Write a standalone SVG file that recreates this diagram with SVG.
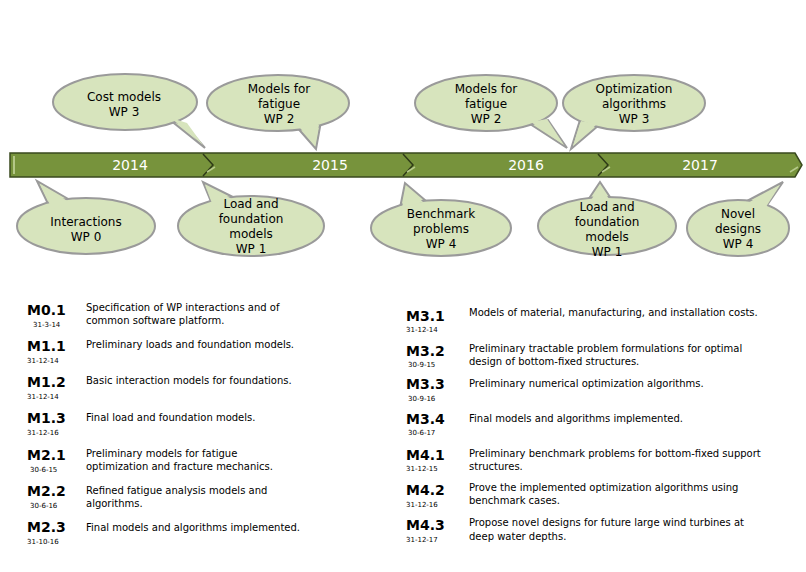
<svg xmlns="http://www.w3.org/2000/svg" width="806" height="572" viewBox="0 0 806 572">
<style>
.b{fill:#d7e4bd;stroke:#9a9a9a;stroke-width:2}
.bf{fill:#d7e4bd;stroke:none}
.t{font-family:"DejaVu Sans",Verdana,sans-serif;font-size:12px;fill:#000;text-anchor:middle}
.y{font-family:"DejaVu Sans",Verdana,sans-serif;font-size:14px;fill:#fff;text-anchor:middle}
.c{font-family:"DejaVu Sans",Verdana,sans-serif;font-size:14px;font-weight:bold;fill:#000}
.d{font-family:"DejaVu Sans",Verdana,sans-serif;font-size:7px;fill:#000}
.s{font-family:"DejaVu Sans",Verdana,sans-serif;font-size:10px;fill:#000}
</style>
<rect width="806" height="572" fill="#fff"/>
<g id="timeline">
<path d="M10,153 L795,153 L802,165 L795,177 L10,177 Z" fill="#77933c" stroke="#3a4a1e" stroke-width="1.5"/>
<path d="M14,156 L14,174" stroke="#c8d9a0" stroke-width="1.5"/>
<g fill="none" stroke="#2e3a17" stroke-width="1.5">
<path d="M203,154 L213,165 L203,176"/><path d="M403,154 L413,165 L403,176"/><path d="M598,154 L608,165 L598,176"/>
</g>
<g fill="none" stroke="#b5c98a" stroke-width="1.5">
<path d="M207,172 L215,167"/><path d="M407,172 L415,167"/><path d="M602,172 L610,167"/><path d="M790,172 L798,167"/>
</g>
<text class="y" x="130" y="170">2014</text>
<text class="y" x="330" y="170">2015</text>
<text class="y" x="526" y="170">2016</text>
<text class="y" x="700" y="170">2017</text>
</g>
<g id="connectors"></g>
<g id="n1"><polygon class="b" points="170,120 205,148 185,125"/><ellipse class="b" cx="125" cy="102" rx="72" ry="28"/><polygon class="bf" points="171,118 203,145 187,123"/>
<text class="t" x="124" y="101">Cost models</text><text class="t" x="124" y="116">WP 3</text></g>
<g id="n2"><polygon class="b" points="295,125 316,149 320,127"/><ellipse class="b" cx="278" cy="103" rx="71" ry="28"/><polygon class="bf" points="296,123 315,146 319,125"/>
<text class="t" x="279" y="93">Models for</text><text class="t" x="279" y="108">fatigue</text><text class="t" x="279" y="123">WP 2</text></g>
<g id="n3"><polygon class="b" points="530,124 567,148 548,120"/><ellipse class="b" cx="486" cy="103" rx="71" ry="28"/><polygon class="bf" points="531,122 564,145 547,119"/>
<text class="t" x="486" y="93">Models for</text><text class="t" x="486" y="108">fatigue</text><text class="t" x="486" y="123">WP 2</text></g>
<g id="n4"><polygon class="b" points="580,120 571,149 598,126"/><ellipse class="b" cx="634" cy="103" rx="71" ry="28"/><polygon class="bf" points="581,121 573,146 597,124"/>
<text class="t" x="634" y="93">Optimization</text><text class="t" x="634" y="108">algorithms</text><text class="t" x="634" y="123">WP 3</text></g>
<g id="n5"><polygon class="b" points="37,181 50,208 70,200"/><ellipse class="b" cx="86" cy="226" rx="69" ry="28"/><polygon class="bf" points="40,184 52,209 69,202"/>
<text class="t" x="86" y="226">Interactions</text><text class="t" x="86" y="241">WP 0</text></g>
<g id="n6"><polygon class="b" points="203,182 212,204 235,198"/><ellipse class="b" cx="251" cy="226" rx="73" ry="30"/><polygon class="bf" points="205,185 213,206 234,200"/>
<text class="t" x="251" y="208">Load and</text><text class="t" x="251" y="223">foundation</text><text class="t" x="251" y="238">models</text><text class="t" x="251" y="253">WP 1</text></g>
<g id="n7"><polygon class="b" points="405,183 400,208 425,200"/><ellipse class="b" cx="441" cy="228" rx="70" ry="28"/><polygon class="bf" points="406,186 402,208 423,202"/>
<text class="t" x="441" y="218">Benchmark</text><text class="t" x="441" y="233">problems</text><text class="t" x="441" y="248">WP 4</text></g>
<g id="n8"><polygon class="b" points="600,182 588,200 612,200"/><ellipse class="b" cx="607" cy="226" rx="69" ry="29"/><polygon class="bf" points="600,185 590,202 611,202"/>
<text class="t" x="607" y="211">Load and</text><text class="t" x="607" y="226">foundation</text><text class="t" x="607" y="241">models</text><text class="t" x="607" y="256">WP 1</text></g>
<g id="n9"><polygon class="b" points="783,182 745,202 765,208"/><ellipse class="b" cx="738" cy="228" rx="51" ry="28"/><polygon class="bf" points="780,185 746,204 764,210"/>
<text class="t" x="738" y="218">Novel</text><text class="t" x="738" y="233">designs</text><text class="t" x="738" y="248">WP 4</text></g>
<g id="milestones">
<text class="c" x="27" y="315">M0.1</text><text class="d" x="33" y="327">31-3-14</text><text class="s" x="86" y="311">Specification  of WP interactions and of</text><text class="s" x="86" y="324">common  software platform.</text>
<text class="c" x="27" y="351">M1.1</text><text class="d" x="27" y="363">31-12-14</text><text class="s" x="86" y="348">Preliminary  loads and foundation models.</text>
<text class="c" x="27" y="387">M1.2</text><text class="d" x="27" y="399">31-12-14</text><text class="s" x="86" y="384">Basic interaction models for foundations.</text>
<text class="c" x="27" y="423">M1.3</text><text class="d" x="27" y="435">31-12-16</text><text class="s" x="86" y="421">Final load and foundation models.</text>
<text class="c" x="27" y="460">M2.1</text><text class="d" x="30" y="472">30-6-15</text><text class="s" x="86" y="457">Preliminary  models for fatigue</text><text class="s" x="86" y="470">optimization and fracture mechanics.</text>
<text class="c" x="27" y="496">M2.2</text><text class="d" x="30" y="508">30-6-16</text><text class="s" x="86" y="494">Refined fatigue analysis models and</text><text class="s" x="86" y="507">algorithms.</text>
<text class="c" x="27" y="532">M2.3</text><text class="d" x="27" y="544">31-10-16</text><text class="s" x="86" y="531">Final models and algorithms implemented.</text>
<text class="c" x="406" y="321">M3.1</text><text class="d" x="406" y="332">31-12-14</text><text class="s" x="469" y="316">Models of material, manufacturing, and installation costs.</text>
<text class="c" x="406" y="356">M3.2</text><text class="d" x="408" y="367">30-9-15</text><text class="s" x="469" y="352">Preliminary  tractable problem formulations for optimal</text><text class="s" x="469" y="365">design of bottom-fixed structures.</text>
<text class="c" x="406" y="389">M3.3</text><text class="d" x="408" y="401">30-9-16</text><text class="s" x="469" y="387">Preliminary  numerical optimization algorithms.</text>
<text class="c" x="406" y="424">M3.4</text><text class="d" x="408" y="435">30-6-17</text><text class="s" x="469" y="422">Final models and algorithms implemented.</text>
<text class="c" x="406" y="460">M4.1</text><text class="d" x="406" y="471">31-12-15</text><text class="s" x="469" y="457">Preliminary  benchmark problems for bottom-fixed support</text><text class="s" x="469" y="470">structures.</text>
<text class="c" x="406" y="495">M4.2</text><text class="d" x="406" y="507">31-12-16</text><text class="s" x="469" y="491">Prove the implemented  optimization algorithms using</text><text class="s" x="469" y="504">benchmark cases.</text>
<text class="c" x="406" y="530">M4.3</text><text class="d" x="406" y="542">31-12-17</text><text class="s" x="469" y="526">Propose novel designs for future large wind turbines at</text><text class="s" x="469" y="540">deep water depths.</text>
</g>
</svg>
